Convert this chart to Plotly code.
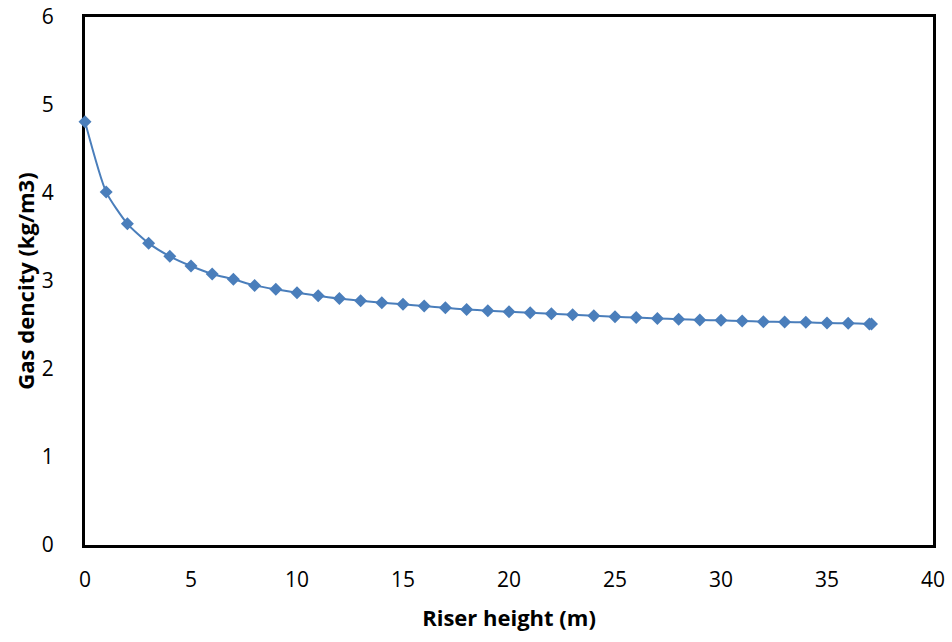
import plotly.graph_objects as go

# Riser height (m) and gas density (kg/m3)
height_m = [0, 1, 2, 3, 4, 5, 6, 7, 8, 9, 10, 11, 12, 13, 14, 15, 16, 17, 18, 19,
            20, 21, 22, 23, 24, 25, 26, 27, 28, 29, 30, 31, 32, 33, 34, 35, 36, 37, 37.1]
gas_density = [4.81, 4.01, 3.65, 3.43, 3.28, 3.17, 3.08, 3.02, 2.95, 2.905, 2.867, 2.833,
               2.80, 2.776, 2.753, 2.735, 2.716, 2.695, 2.676, 2.663, 2.651, 2.64, 2.628,
               2.617, 2.604, 2.594, 2.584, 2.575, 2.566, 2.557, 2.553, 2.545, 2.538, 2.534,
               2.53, 2.523, 2.519, 2.512, 2.511]

x_ticks = [0, 5, 10, 15, 20, 25, 30, 35, 40]
y_ticks = [0, 1, 2, 3, 4, 5, 6]

blue = "#4A7EBB"
font_family = "Open Sans, Liberation Sans, sans-serif"

fig = go.Figure()
fig.add_trace(go.Scatter(
    x=height_m, y=gas_density,
    mode="lines+markers",
    line=dict(color=blue, width=2, shape="spline", smoothing=0.6),
    marker=dict(symbol="diamond", size=10, color=blue, line=dict(width=0)),
    cliponaxis=False,
    showlegend=False,
))

axis_common = dict(
    showgrid=False, zeroline=False,
    showline=True, linecolor="black", linewidth=3, mirror=True,
    ticks="", layer="below traces", automargin=False,
    tickfont=dict(family=font_family, size=21, color="black"),
)

fig.update_layout(
    width=952, height=642,
    margin=dict(l=85, r=19, t=17, b=97),
    paper_bgcolor="white", plot_bgcolor="white",
    xaxis=dict(range=[0, 40], tickvals=x_ticks, ticklabelstandoff=14,
               title=dict(text="<b>Riser height (m)</b>", standoff=19,
                          font=dict(family=font_family, size=22, color="black")),
               **axis_common),
    yaxis=dict(range=[0, 6], tickvals=y_ticks, ticklabelstandoff=24,
               title=dict(text="<b>Gas dencity (kg/m3)</b>", standoff=2,
                          font=dict(family=font_family, size=22, color="black")),
               **axis_common),
)

fig.write_html("out.html")
